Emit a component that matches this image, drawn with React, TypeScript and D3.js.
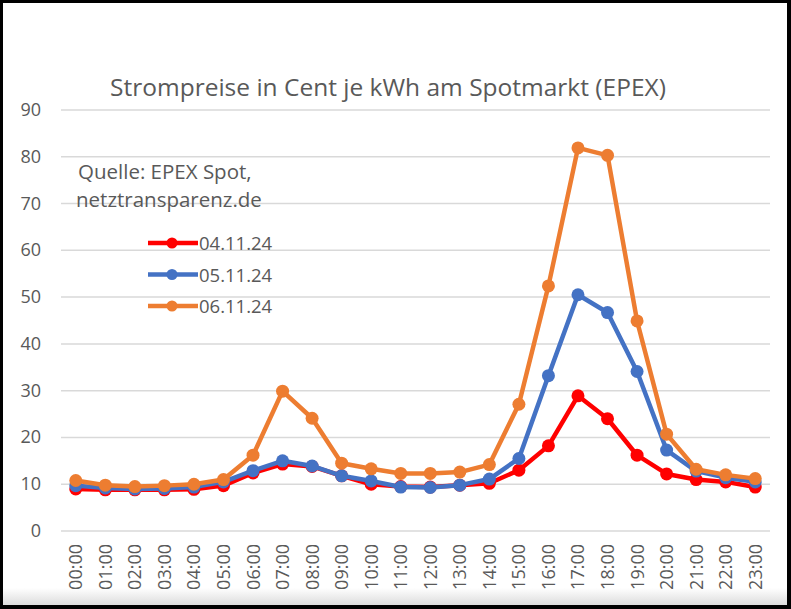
import { useEffect, useRef } from "react";
import * as d3 from "d3";

const hours = [
  "00:00", "01:00", "02:00", "03:00", "04:00", "05:00", "06:00", "07:00",
  "08:00", "09:00", "10:00", "11:00", "12:00", "13:00", "14:00", "15:00",
  "16:00", "17:00", "18:00", "19:00", "20:00", "21:00", "22:00", "23:00",
];

const nov04 = [
  9.0, 8.8, 8.8, 8.8, 8.9, 9.7, 12.4, 14.3, 13.8, 11.8, 10.0, 9.5,
  9.4, 9.8, 10.2, 13.0, 18.2, 28.9, 24.0, 16.2, 12.2, 11.0, 10.5, 9.4,
];
const nov05 = [
  9.7, 9.2, 9.0, 9.1, 9.4, 10.5, 12.9, 15.0, 13.9, 11.8, 10.7, 9.4,
  9.3, 9.8, 11.1, 15.5, 33.2, 50.5, 46.7, 34.1, 17.3, 12.8, 11.4, 10.5,
];
const nov06 = [
  10.8, 9.8, 9.5, 9.7, 10.0, 11.0, 16.2, 29.9, 24.1, 14.5, 13.3, 12.3,
  12.3, 12.6, 14.2, 27.1, 52.4, 81.9, 80.3, 44.9, 20.7, 13.2, 12.0, 11.2,
];

const seriesNames = ["04.11.24", "05.11.24", "06.11.24"];
const seriesColors = ["#ff0000", "#4472c4", "#ed7d31"];
const yTicks = [0, 10, 20, 30, 40, 50, 60, 70, 80, 90];

const W = 791;
const H = 609;
const font = "'Open Sans', Lato, sans-serif";
const textColor = "#595959";

export default function App() {
  const svgRef = useRef<SVGSVGElement | null>(null);

  useEffect(() => {
    if (!svgRef.current) return;
    const svg = d3.select(svgRef.current);
    svg.selectAll("*").remove();

    // frame
    svg.append("rect").attr("width", W).attr("height", H).attr("fill", "#000");
    const grad = svg.append("defs").append("linearGradient")
      .attr("id", "shade").attr("x1", 0).attr("y1", 0).attr("x2", 0).attr("y2", 1);
    grad.append("stop").attr("offset", "0").attr("stop-color", "#fff");
    grad.append("stop").attr("offset", "1").attr("stop-color", "#dcdcdc");
    svg.append("rect").attr("x", 3).attr("y", 3).attr("width", 784).attr("height", 602).attr("fill", "#fff");
    svg.append("rect").attr("x", 3).attr("y", 588).attr("width", 784).attr("height", 17).attr("fill", "url(#shade)");

    const x = d3.scaleBand<string>().domain(hours).range([61, 770]);
    const y = d3.scaleLinear().domain([0, 90]).range([531, 110]);
    const cx = (h: string) => (x(h) ?? 0) + x.bandwidth() / 2;

    // gridlines
    svg.append("g")
      .selectAll("line")
      .data(yTicks)
      .join("line")
      .attr("x1", 61)
      .attr("x2", 770)
      .attr("y1", (d) => y(d))
      .attr("y2", (d) => y(d))
      .attr("stroke", "#d9d9d9")
      .attr("stroke-width", 1.5);

    // y labels
    svg.append("g")
      .selectAll("text")
      .data(yTicks)
      .join("text")
      .attr("x", 41)
      .attr("y", (d) => y(d) + 6)
      .attr("text-anchor", "end")
      .attr("font-family", font)
      .attr("font-size", 18)
      .attr("fill", textColor)
      .text((d) => d);

    // x labels
    svg.append("g")
      .selectAll("text")
      .data(hours)
      .join("text")
      .attr("transform", (d) => `translate(${cx(d) + 6.5},544) rotate(-90)`)
      .attr("text-anchor", "end")
      .attr("font-family", font)
      .attr("font-size", 18)
      .attr("fill", textColor)
      .text((d) => d);

    // title
    svg.append("text")
      .attr("x", 388)
      .attr("y", 96)
      .attr("text-anchor", "middle")
      .attr("font-family", font)
      .attr("font-size", 24.5)
      .attr("fill", textColor)
      .text("Strompreise in Cent je kWh am Spotmarkt (EPEX)");

    // source note
    svg.append("text")
      .attr("x", 78).attr("y", 179)
      .attr("font-family", font).attr("font-size", 20.5).attr("fill", textColor)
      .text("Quelle: EPEX Spot,");
    svg.append("text")
      .attr("x", 76).attr("y", 207)
      .attr("font-family", font).attr("font-size", 20.5).attr("fill", textColor)
      .text("netztransparenz.de");

    const series = [nov04, nov05, nov06];
    const line = d3.line<number>()
      .x((_, i) => cx(hours[i]))
      .y((d) => y(d));

    series.forEach((vals, si) => {
      const g = svg.append("g");
      g.append("path")
        .datum(vals)
        .attr("d", line)
        .attr("fill", "none")
        .attr("stroke", seriesColors[si])
        .attr("stroke-width", 4.5)
        .attr("stroke-linejoin", "round");
      g.selectAll("circle")
        .data(vals)
        .join("circle")
        .attr("cx", (_, i) => cx(hours[i]))
        .attr("cy", (d) => y(d))
        .attr("r", 6.5)
        .attr("fill", seriesColors[si]);
    });

    // legend
    const legend = svg.append("g");
    seriesNames.forEach((name, i) => {
      const ly = 243 + i * 31.5;
      legend.append("line")
        .attr("x1", 148).attr("x2", 198).attr("y1", ly).attr("y2", ly)
        .attr("stroke", seriesColors[i]).attr("stroke-width", 4.5);
      legend.append("circle")
        .attr("cx", 172).attr("cy", ly).attr("r", 5.5).attr("fill", seriesColors[i]);
      legend.append("text")
        .attr("x", 199).attr("y", ly + 7)
        .attr("font-family", font).attr("font-size", 18.5).attr("fill", textColor)
        .text(name);
    });
  }, []);

  return (
    <svg
      ref={svgRef}
      width={W}
      height={H}
      style={{ position: "absolute", left: 0, top: 0 }}
    />
  );
}
